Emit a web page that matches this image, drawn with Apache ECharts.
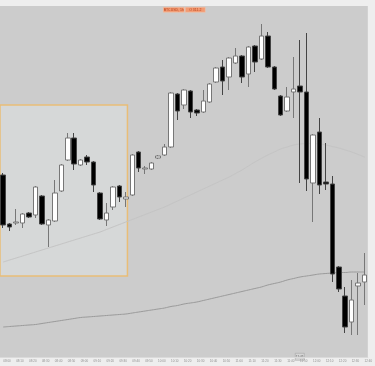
<!DOCTYPE html>
<html><head><meta charset="utf-8">
<script src="https://cdn.jsdelivr.net/npm/echarts@6/dist/echarts.min.js"></script>
<style>html,body{margin:0;padding:0;background:#eeeeee;}#c{width:375px;height:366px;}</style>
</head><body><div id="c"></div>
<script>
// time labels (one per candle)
const times = ['08:00','08:05','08:10','08:15','08:20','08:25','08:30','08:35','08:40','08:45','08:50','08:55','09:00','09:05','09:10','09:15','09:20','09:25','09:30','09:35','09:40','09:45','09:50','09:55','10:00','10:05','10:10','10:15','10:20','10:25','10:30','10:35','10:40','10:45','10:50','10:55','11:00','11:05','11:10','11:15','11:20','11:25','11:30','11:35','11:40','11:45','11:50','11:55','12:00','12:05','12:10','12:15','12:20','12:25','12:30','12:35','12:40'];

const opens  = [225,176,177,177,187,185,204,175,179,209,240,262,235,243,238,207,180,193,214,201,205,248,231,231,242,245,253,306,295,309,290,288,298,318,333,323,337,344,326,354,341,364,333,304,289,308,314,308,217,268,218,216,133,104,78,114,118];
const closes = [175,173,178,186,183,213,176,180,207,235,262,236,240,238,215,181,187,213,203,203,245,232,232,237,244,253,307,289,310,288,287,299,316,332,319,342,344,323,353,338,364,333,311,285,303,311,308,221,265,215,216,126,111,73,100,117,125];
const lows   = [172,169,175,172,182,182,175,153,178,208,239,230,234,235,208,180,174,190,198,193,204,228,226,230,241,244,252,280,291,282,284,287,297,317,305,310,336,317,313,328,340,332,310,284,288,282,217,209,178,206,210,118,108,67,65,65,95];
const highs  = [227,177,191,187,188,214,205,181,220,236,267,267,241,245,239,208,197,214,215,208,246,249,234,238,245,256,308,307,311,310,291,310,317,333,340,343,352,345,354,355,376,368,334,305,313,343,360,367,266,282,257,224,134,113,120,127,147];
// slow moving average (darker line)
const maSlow = [73,73.5,74,74.5,75,75.5,76.5,77.5,78.5,79.5,80.5,81.5,82.5,83,83.5,84,84.5,85,85.5,86,87,88,89,90,91,92,93.5,94.5,96,97,98,99.5,101,102.5,104,105.5,107,108.5,110,111.5,113,115,116.5,118,120,121.5,123,124,125,126,126.5,127,127.5,127.5,128,128,128];
// faint moving average
const maFaint = [138,140,142,144,146,148,150,152,154,156,158,160,162,164,166,168,170.5,173,175.5,178,180.5,183,185.5,188,190.5,193,196,199,202,205,208,211,214,217,220,223,226.5,230,234,238,241.5,245,248,251,253,255,256,256.5,256.5,256,255,253.5,252,250,248,245.5,243];
// highlighted zone (x in candle index, y in price)
const zone = { x0: -1, x1: 19.25, top: 295, bottom: 124 };

const chart = echarts.init(document.getElementById('c'));
const candleData = opens.map((o, i) => [o, closes[i], lows[i], highs[i]]);
chart.setOption({
  animation: false,
  backgroundColor: '#eeeeee',
  grid: { left: -3.3, right: -1.7, top: 6, bottom: 9, show: true, backgroundColor: '#cccccc', borderWidth: 0 },
  xAxis: [
    { type: 'category', data: times, boundaryGap: true,
      axisLine: { show: true, lineStyle: { color: '#dadada' } }, axisTick: { show: false },
      axisLabel: { interval: 1, fontSize: 3, color: '#8e8e8e', align: 'left', margin: 2.5, fontFamily: 'Liberation Sans' },
      splitLine: { show: false } },
    { type: 'value', min: -0.5, max: 56.5, show: false, splitLine: { show: false } }
  ],
  yAxis: { type: 'value', min: 43, max: 394, show: false, splitLine: { show: false } },
  series: [
    { type: 'line', xAxisIndex: 1, data: maFaint.map((v, i) => [i, v]), showSymbol: false, z: 1, smooth: true,
      lineStyle: { color: '#c4c4c4', width: 1 },
      markArea: { silent: true, itemStyle: { color: 'rgba(222,226,226,0.55)', borderColor: '#e9bd77', borderWidth: 1.5 },
        data: [[{ coord: [zone.x0, zone.top] }, { coord: [zone.x1, zone.bottom] }]] } },
    { type: 'line', xAxisIndex: 1, data: maSlow.map((v, i) => [i, v]), showSymbol: false, z: 2, smooth: true,
      lineStyle: { color: '#9a9a9a', width: 1 } },
    { type: 'candlestick', data: candleData, barWidth: 5, z: 3,
      itemStyle: { color: '#ffffff', color0: '#000000', borderColor: '#777777', borderColor0: '#444444', borderWidth: 1 } }
  ],
  graphic: [
    { type: 'group', left: 163, top: 7, children: [
      { type: 'rect', shape: { x: 0, y: 0, width: 21, height: 5 }, style: { fill: '#f29a72', stroke: '#f7c3a8', lineWidth: 0.5 } },
      { type: 'text', style: { x: 10.5, y: 2.5, text: 'BTCUSD, 1h', fontSize: 3.5, fill: '#b8401a', align: 'center', verticalAlign: 'middle' } },
      { type: 'rect', shape: { x: 22, y: 0, width: 20, height: 5 }, style: { fill: '#f29a72', stroke: '#f7c3a8', lineWidth: 0.5 } },
      { type: 'text', style: { x: 32, y: 2.5, text: 'O 311.2', fontSize: 3.5, fill: '#b8401a', align: 'center', verticalAlign: 'middle' } }
    ]},
    { type: 'group', left: 295, top: 353, z: 10, children: [
      { type: 'rect', shape: { x: 0, y: 0, width: 9, height: 7 }, style: { fill: '#d6d6d6', stroke: '#9a9a9a', lineWidth: 0.5 } },
      { type: 'text', style: { x: 4.5, y: 3.5, text: '11:45', fontSize: 3, fill: '#555555', align: 'center', verticalAlign: 'middle' } }
    ]}
  ]
});
</script></body></html>
